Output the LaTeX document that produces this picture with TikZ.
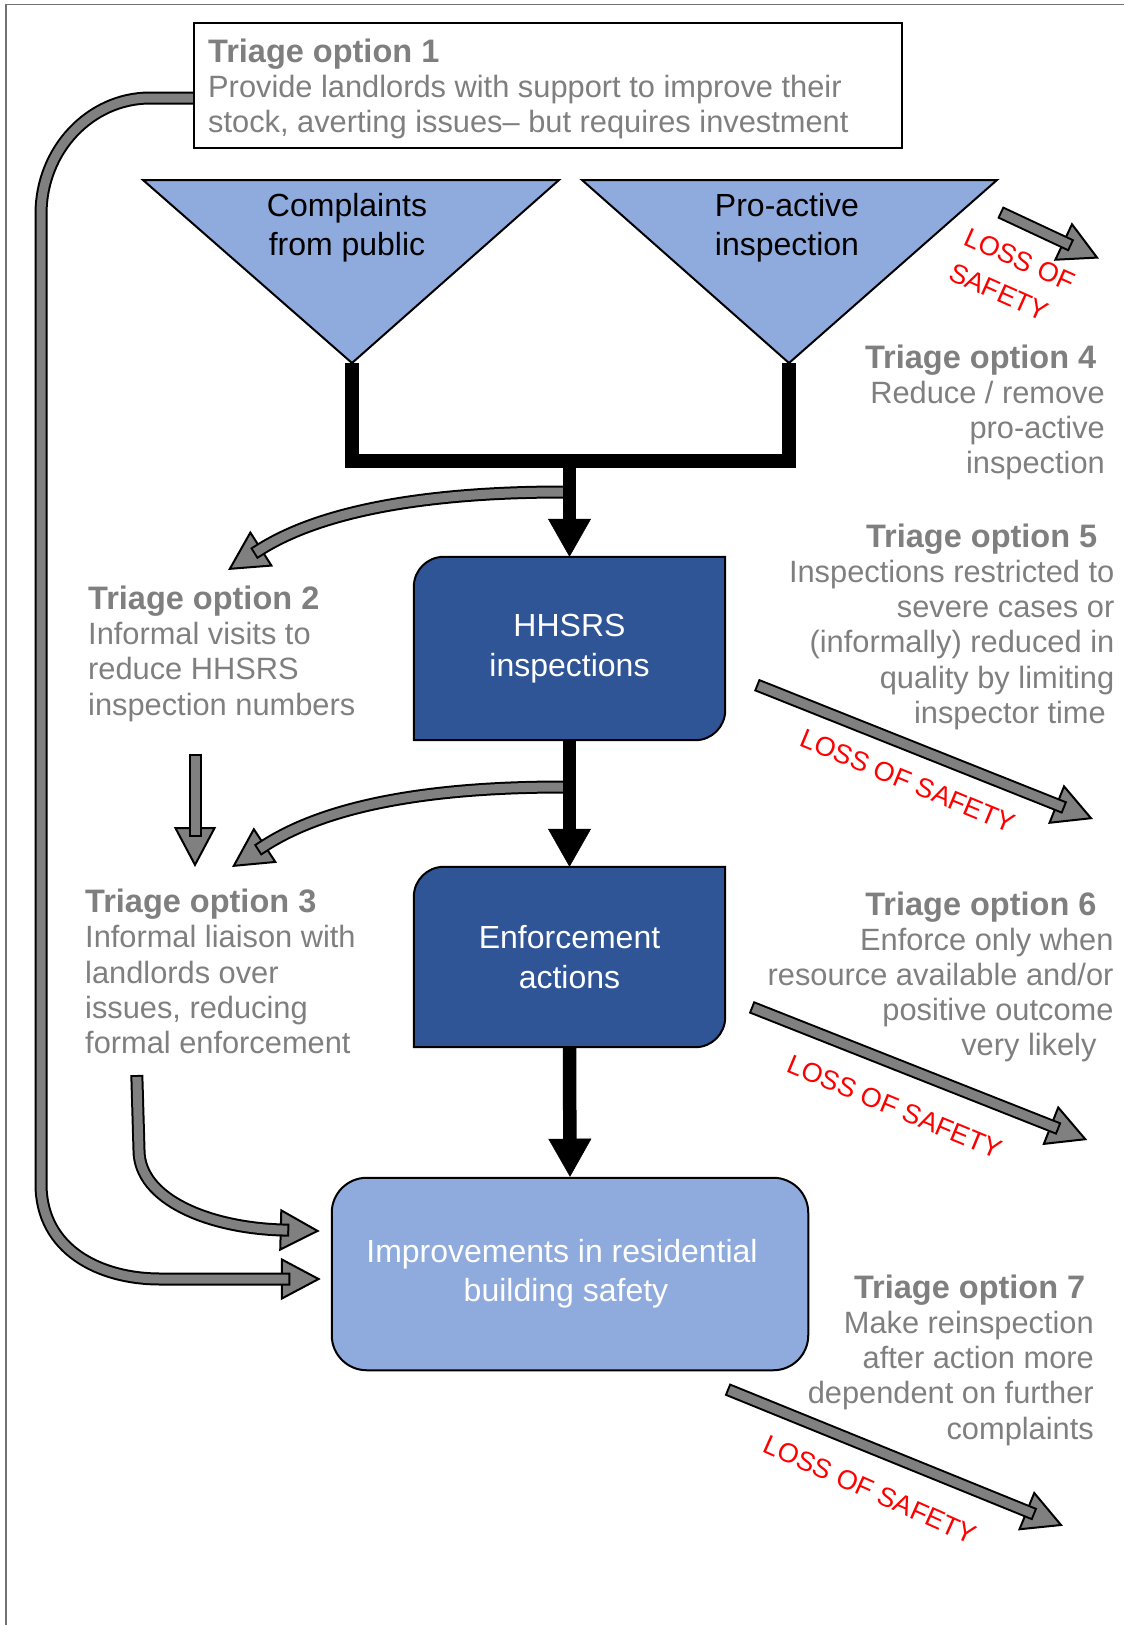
\documentclass[tikz,border=0pt]{standalone}
\usepackage{fontspec}
\setmainfont{Liberation Sans}
\usetikzlibrary{arrows.meta,calc,backgrounds}

\definecolor{funnelblue}{HTML}{8FAADC}
\definecolor{stageblue}{HTML}{2F5597}
\definecolor{notegrey}{HTML}{7F7F7F}
\definecolor{shaftgrey}{HTML}{808080}

\tikzset{
  funnel/.style={draw=black, line width=2pt, fill=funnelblue, line join=miter},
  funneltext/.style={inner sep=0pt, align=center, font=\fontsize{32}{39.5}\selectfont},
  stage/.style={draw=black, line width=2pt, fill=stageblue},
  stagetext/.style={text=white, align=center, font=\fontsize{32}{40}\selectfont},
  outcome/.style={draw=black, line width=2pt, fill=funnelblue, rounded corners=35pt,
    text=white, align=center, font=\fontsize{32}{39.4}\selectfont},
  optbox/.style={draw=black, line width=2pt, fill=white},
  optnote/.style={inner sep=0pt, text=notegrey, font=\fontsize{30.8}{35.2}\selectfont},
  lossnote/.style={inner sep=0pt, text=red, font=\fontsize{27}{38}\selectfont},
  flowline/.style={draw=black, line width=13.5pt, line join=miter},
  flowarrow/.style={flowline, -{Triangle[length=38pt,width=43pt,line width=0.5pt]}},
  fathead/.style={draw=black, line width=2pt,
    -{Triangle[length=40pt,width=42pt,line width=2pt,fill=shaftgrey]}},
  fatshaft/.style={draw=black, line width=2pt, double=shaftgrey, double distance=9pt,
    line cap=rect, shorten >=37pt},
}

\newcommand\opttitle[1]{{\fontsize{32.5}{35.2}\selectfont\bfseries #1}}
\newcommand\tsp{\hspace*{8.5pt}}
% stage box: only top left and bottom right corners rounded
\newcommand\stageoutline[1]{%
  \draw[stage] (#1.north east) -- ($(#1.south east)+(0,-30)$)
    .. controls ($(#1.south east)+(0,-13.4)$) and ($(#1.south east)+(-13.4,0)$) .. ($(#1.south east)+(-30,0)$)
    -- (#1.south west) -- ($(#1.north west)+(0,30)$)
    .. controls ($(#1.north west)+(0,13.4)$) and ($(#1.north west)+(13.4,0)$) .. ($(#1.north west)+(30,0)$)
    -- cycle;}
% grey block arrow: head first, outlined shaft on top
\newcommand\fatarrow[1]{\draw[fathead] #1; \draw[fatshaft] #1;}

\begin{document}
\begin{tikzpicture}[x=1pt,y=-1pt]
\useasboundingbox (0,0) rectangle (1124,1625);
\draw[black!55, line width=1.5pt] (6,1625) -- (6,4.5) -- (1124,4.5);

% option 1 box (base anchor = last line)
\node[optbox, minimum width=708pt, minimum height=125pt, anchor=north west] (opt1box) at (193,22) {};
\node[optnote, anchor=base west, align=left] (opt1) at (208,132.9)
  {\opttitle{Triage option 1}\\Provide landlords with support to improve their\\stock, averting issues– but requires investment};

% funnels
\coordinate (cmplL) at (143,180);
\coordinate (cmplR) at (559,180);
\coordinate (cmplV) at (352,363);
\coordinate (proaL) at (582,180);
\coordinate (proaR) at (997,180);
\coordinate (proaV) at (789,363);
\draw[funnel] (cmplL) -- (cmplR) -- (cmplV) -- cycle;
\draw[funnel] (proaL) -- (proaR) -- (proaV) -- cycle;
\node[funneltext, anchor=base] (cmpl) at (347,255.5) {Complaints\\from public};
\node[funneltext, anchor=base] (proa) at (787,255.5) {Pro-active\\inspection};

% stages
\node[stagetext, minimum width=311pt, minimum height=183pt] (hhsrs) at (569.5,648.5) {HHSRS\\inspections};
\node[stagetext, minimum width=311pt, minimum height=180pt] (enf) at (569.5,957) {Enforcement\\actions};
\node[outcome, minimum width=476.5pt, minimum height=192.5pt] (impr) at (570,1274)
  {Improvements in residential\hspace*{16pt}\\building safety\hspace*{8pt}};

% main flow
\coordinate (merge) at (569.5,461);
\draw[flowline] (cmplV) |- (merge) -| (proaV);
\draw[flowarrow] (merge) -- (hhsrs.north);
\draw[flowarrow] (hhsrs.south) -- (enf.north);
\draw[flowarrow] (enf.south) -- (impr.north);

% triage notes
\node[optnote, anchor=base west, align=left] (opt2) at (88,715)
  {\opttitle{Triage option 2}\\Informal visits to\\reduce HHSRS\\inspection numbers};
\node[optnote, anchor=base west, align=left] (opt3) at (85,1053.4)
  {\opttitle{Triage option 3}\\Informal liaison with\\landlords over\\issues, reducing\\formal enforcement};
\node[optnote, anchor=base east, align=right] (opt4) at (1105,473.6)
  {\opttitle{Triage option 4}\tsp\\Reduce / remove\\pro-active\tsp\\inspection};
\node[optnote, anchor=base east, align=right] (opt5) at (1114.5,723.2)
  {\opttitle{Triage option 5}\tsp\tsp\\Inspections restricted to\\severe cases or\tsp\\(informally) reduced in\\quality by limiting\tsp\\inspector time\tsp};
\node[optnote, anchor=base east, align=right] (opt6) at (1113.7,1055.8)
  {\opttitle{Triage option 6}\tsp\tsp\\Enforce only when\tsp\\resource available and/or\\positive outcome\tsp\\very likely\tsp\tsp};
\node[optnote, anchor=base east, align=right] (opt7) at (1094,1439.1)
  {\opttitle{Triage option 7}\tsp\\Make reinspection\\after action more\\dependent on further\\complaints};

% loss of safety
\node[lossnote, rotate=-24, align=left] (loss4) at (1012,277) {LOSS OF\\SAFETY};
\node[lossnote, rotate=-22.5] (loss5) at (908,781) {LOSS OF SAFETY};
\node[lossnote, rotate=-22.5] (loss6) at (895,1107) {LOSS OF SAFETY};
\node[lossnote, rotate=-24] (loss7) at (870,1490) {LOSS OF SAFETY};

\begin{scope}[on background layer]
  \coordinate (g0s) at ($(opt1box.north west)+(0,76)$);
  \coordinate (g0t) at ($(impr.west)+(-10,5)$);
  \coordinate (g1s) at (563,492);
  \coordinate (g1t) at (228,570);
  \coordinate (g2s) at (563,787);
  \coordinate (g2t) at (232,867);
  \coordinate (drops) at (195,760.5);
  \coordinate (dropt) at (195,867);
  \coordinate (g3s) at (137,1081.5);
  \coordinate (g3t) at ($(impr.west)+(-11,-43)$);
  \coordinate (l4s) at (1006,215);
  \coordinate (l4t) at (1099,258.5);
  \coordinate (l5s) at (762.5,687.3);
  \coordinate (l5t) at (1093,819);
  \coordinate (l6s) at (757.3,1009.5);
  \coordinate (l6t) at (1087.3,1140);
  \coordinate (l7s) at (733.2,1391.8);
  \coordinate (l7t) at (1063,1525.8);

  \fatarrow{(g0s) -- (150,98) .. controls (90,98) and (41,150) .. (41,214) -- (41,1184)
    .. controls (41,1250) and (100,1279) .. (160,1279) -- (g0t)}
  \fatarrow{(g1s) .. controls (450,492) and (330,505) .. (g1t)}
  \fatarrow{(g2s) .. controls (450,787) and (334,800) .. (g2t)}
  \fatarrow{(drops) -- (dropt)}
  \fatarrow{(g3s) -- (139,1150) .. controls (139,1200) and (210,1228) .. (g3t)}
  \fatarrow{(l4s) -- (l4t)}
  \fatarrow{(l5s) -- (l5t)}
  \fatarrow{(l6s) -- (l6t)}
  \fatarrow{(l7s) -- (l7t)}

  \stageoutline{hhsrs}
  \stageoutline{enf}
\end{scope}
\end{tikzpicture}
\end{document}
